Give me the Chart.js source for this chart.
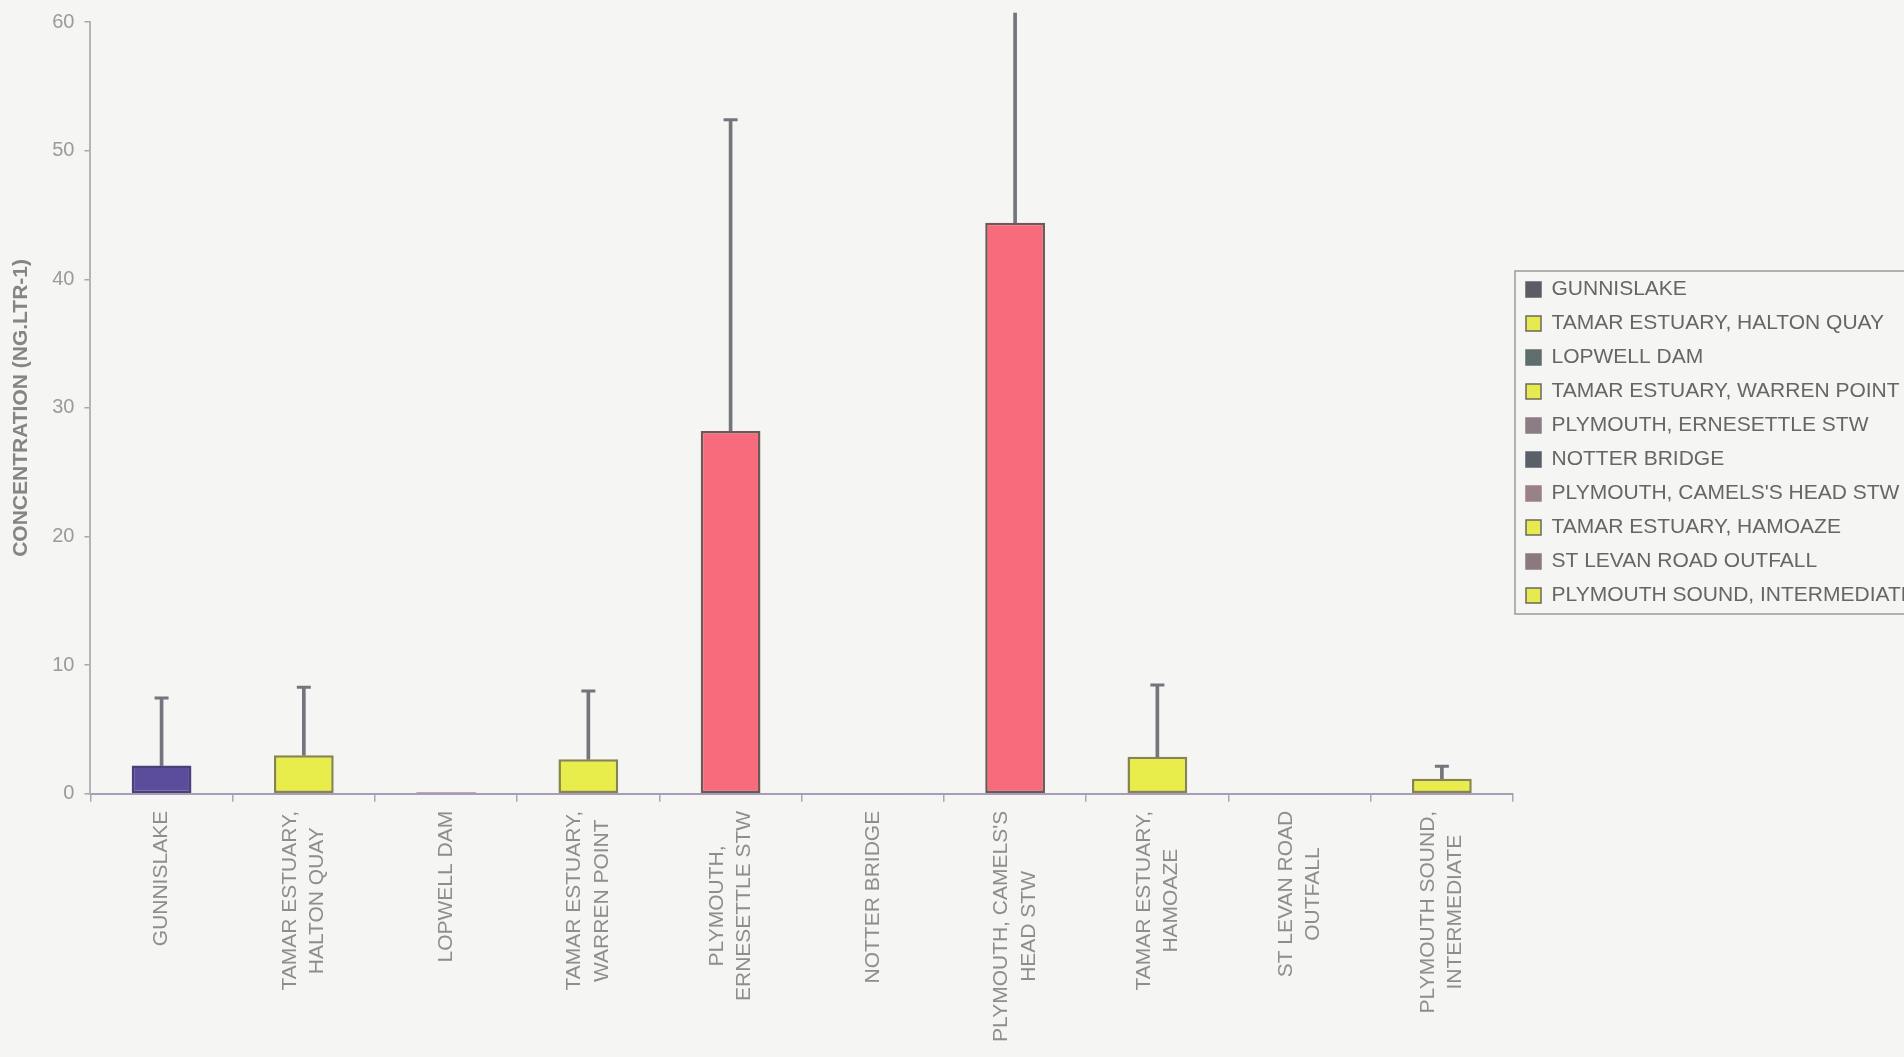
<!DOCTYPE html>
<html>
<head>
<meta charset="utf-8">
<script src="https://cdn.jsdelivr.net/npm/chart.js@4/dist/chart.umd.min.js"></script>
<style>
  html, body { margin: 0; padding: 0; background: #f5f5f4; overflow: hidden; }
  #wrap { width: 1904px; height: 1057px; position: relative; }
</style>
</head>
<body>
<div id="wrap"><canvas id="c" width="1904" height="1057"></canvas></div>
<script>
// ---- data ----
const categories = [
  ["GUNNISLAKE"],
  ["TAMAR ESTUARY,", "HALTON QUAY"],
  ["LOPWELL DAM"],
  ["TAMAR ESTUARY,", "WARREN POINT"],
  ["PLYMOUTH,", "ERNESETTLE STW"],
  ["NOTTER BRIDGE"],
  ["PLYMOUTH, CAMELS'S", "HEAD STW"],
  ["TAMAR ESTUARY,", "HAMOAZE"],
  ["ST LEVAN ROAD", "OUTFALL"],
  ["PLYMOUTH SOUND,", "INTERMEDIATE"]
];
const legendLabels = [
  "GUNNISLAKE",
  "TAMAR ESTUARY, HALTON QUAY",
  "LOPWELL DAM",
  "TAMAR ESTUARY, WARREN POINT",
  "PLYMOUTH, ERNESETTLE STW",
  "NOTTER BRIDGE",
  "PLYMOUTH, CAMELS'S HEAD STW",
  "TAMAR ESTUARY, HAMOAZE",
  "ST LEVAN ROAD OUTFALL",
  "PLYMOUTH SOUND, INTERMEDIATE"
];
const meanValues  = [2.2, 3.0, 0.15, 2.68, 28.2, 0.03, 44.4, 2.88, 0.04, 1.18];
const errorUpper  = [7.45, 8.28, null, 8.0, 52.4, null, 60.7, 8.47, null, 2.15];
const errorCaps   = [7.45, 8.28, null, 8.0, 52.4, null, null, 8.47, null, 2.15];
const yTicks      = [0, 10, 20, 30, 40, 50, 60];

// ---- styles ----
const barFill   = ['#5b4c9c', '#e9ed4b', '#d898b8', '#e9ed4b', '#f76b7c', '#9aa0a8', '#f76b7c', '#e9ed4b', '#b89aa8', '#e9ed4b'];
const barBorder = ['#4a3f78', '#86864c', '#c8a0c0', '#86864c', '#6e5858', '#9aa0a8', '#6e5858', '#86864c', '#a89098', '#86864c'];
const legFill   = ['#5c5c66', '#e6ea50', '#5f6e6c', '#e6ea50', '#8c7c84', '#5a6068', '#9a8088', '#e6ea50', '#8a7a80', '#e6ea50'];
const legBorder = ['#5c5c66', '#6a6a5a', '#5f6e6c', '#6a6a5a', '#8c7c84', '#5a6068', '#9a8088', '#6a6a5a', '#8a7a80', '#6a6a5a'];
const FONT = "'Liberation Sans', Arial, Helvetica, sans-serif";
const errColor = '#74747c';

const stems = meanValues.map((m, i) => errorUpper[i] == null ? null : [m, errorUpper[i]]);

// Centre multi-line rotated x labels on their tick, lines centred on each other
const centerLabels = {
  id: 'centerLabels',
  beforeDraw(chart) {
    const scale = chart.scales.x;
    const items = scale.getLabelItems(chart.chartArea);
    if (!items || items._centered) return;
    const ctx = chart.ctx;
    items.forEach(it => {
      const lines = Array.isArray(it.label) ? it.label : [it.label];
      ctx.save();
      ctx.font = it.font.string;
      const w = Math.max(...lines.map(l => ctx.measureText(l).width));
      ctx.restore();
      const lh = it.font.lineHeight;
      it.options.textAlign = 'center';
      it.options.translation[0] -= (lines.length - 1) * lh / 2;
      it.options.translation[1] += w / 2;
    });
    items._centered = true;
  }
};

// Frame around the legend
const legendFrame = {
  id: 'legendFrame',
  afterDraw(chart) {
    const lg = chart.legend;
    if (!lg || !lg.legendHitBoxes || !lg.legendHitBoxes.length) return;
    const hb = lg.legendHitBoxes;
    const top = hb[0].top - 8;
    const last = hb[hb.length - 1];
    const bottom = last.top + last.height + 8;
    const left = lg.left + 2;
    const ctx = chart.ctx;
    ctx.save();
    ctx.strokeStyle = '#9a9a9a';
    ctx.lineWidth = 1.5;
    ctx.strokeRect(left, top, chart.width + 10 - left, bottom - top);
    ctx.restore();
  }
};

new Chart(document.getElementById('c'), {
  type: 'bar',
  data: {
    labels: categories,
    datasets: [
      {
        label: 'mean',
        data: meanValues,
        backgroundColor: barFill,
        borderColor: barBorder,
        borderWidth: 2.5,
        borderSkipped: false,
        barPercentage: 0.42,
        categoryPercentage: 1.0,
        grouped: false,
        order: 2
      },
      {
        label: 'err',
        data: stems,
        backgroundColor: errColor,
        borderWidth: 0,
        barThickness: 3,
        grouped: false,
        clip: false,
        order: 3
      },
      {
        type: 'line',
        label: 'cap',
        data: errorCaps,
        showLine: false,
        pointStyle: 'line',
        pointRadius: 7,
        pointHoverRadius: 7,
        pointBorderWidth: 3,
        pointBorderColor: errColor,
        borderColor: errColor,
        order: 1
      }
    ]
  },
  options: {
    responsive: false,
    devicePixelRatio: 1,
    animation: false,
    events: [],
    layout: { padding: { left: 5, top: 22, right: 0, bottom: 6 } },
    plugins: {
      tooltip: { enabled: false },
      legend: {
        display: true,
        position: 'right',
        align: 'start',
        maxWidth: 391,
        title: { display: true, text: '', font: { size: 10 }, padding: { top: 0, bottom: 232 } },
        labels: {
          font: { family: FONT, size: 21 },
          color: '#7c7c7c',
          boxWidth: 15,
          boxHeight: 15,
          padding: 13,
          generateLabels: () => legendLabels.map((t, i) => ({
            text: t,
            fillStyle: legFill[i],
            strokeStyle: legBorder[i],
            lineWidth: 1.5,
            hidden: false,
            index: i,
            datasetIndex: 0
          }))
        }
      }
    },
    scales: {
      x: {
        offset: true,
        border: { display: true, color: '#a89cb6', width: 2 },
        grid: { display: true, drawOnChartArea: false, drawTicks: true, tickLength: 8, color: '#a8a8b0', lineWidth: 1.5 },
        ticks: {
          color: '#8e8e8e',
          font: { family: FONT, size: 21, lineHeight: 1.3 },
          padding: 9,
          minRotation: 90,
          maxRotation: 90,
          autoSkip: false
        }
      },
      y: {
        min: 0,
        max: 60,
        afterBuildTicks: (scale) => { scale.ticks = yTicks.map(v => ({ value: v })); },
        border: { display: true, color: '#b4b4b4', width: 2 },
        grid: { display: true, drawOnChartArea: false, drawTicks: true, tickLength: 6, color: '#a8a8a8', lineWidth: 1.5 },
        ticks: {
          color: '#9a9a9a',
          font: { family: FONT, size: 20 },
          padding: 10
        },
        title: {
          display: true,
          text: 'CONCENTRATION (NG.LTR-1)',
          color: '#858585',
          font: { family: FONT, size: 21, weight: 'bold' },
          padding: { top: 4, bottom: 8 }
        }
      }
    }
  },
  plugins: [centerLabels, legendFrame]
});
</script>
</body>
</html>
